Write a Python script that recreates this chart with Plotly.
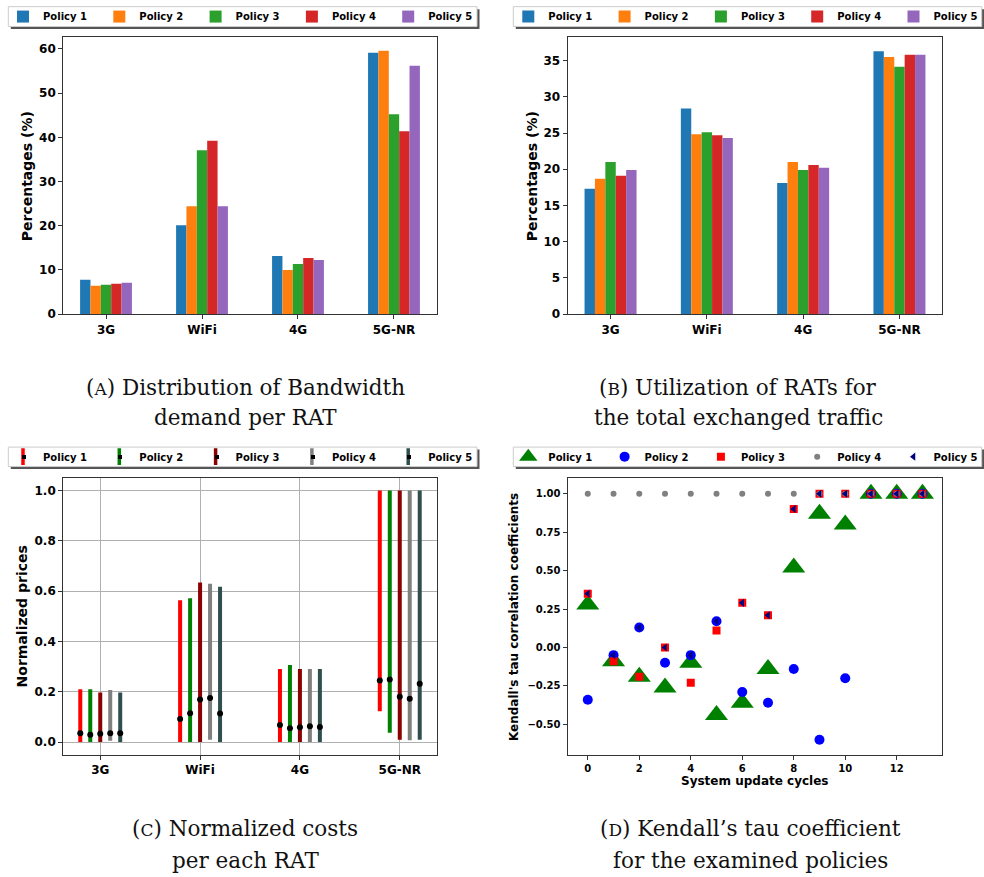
import plotly.graph_objects as go

# ---------------- data ----------------
rats = ["3G", "WiFi", "4G", "5G-NR"]
policies = ["Policy 1", "Policy 2", "Policy 3", "Policy 4", "Policy 5"]

# (A) bandwidth demand per RAT (%)
bw_p1 = [7.77, 20.1, 13.15, 59.1]
bw_p2 = [6.43, 24.4, 10.0, 59.6]
bw_p3 = [6.65, 37.1, 11.36, 45.2]
bw_p4 = [6.88, 39.2, 12.7, 41.4]
bw_p5 = [7.1, 24.4, 12.26, 56.2]

# (B) utilization of RATs for total exchanged traffic (%)
tr_p1 = [17.3, 28.4, 18.1, 36.3]
tr_p2 = [18.7, 24.85, 21.0, 35.5]
tr_p3 = [21.0, 25.1, 19.9, 34.15]
tr_p4 = [19.1, 24.7, 20.6, 35.8]
tr_p5 = [19.9, 24.3, 20.2, 35.8]

# (C) normalized prices: mean, min, max
c_mean_p1 = [0.035, 0.092, 0.068, 0.245]
c_low_p1 = [0.0, 0.0, 0.0, 0.122]
c_high_p1 = [0.21, 0.564, 0.29, 1.0]
c_mean_p2 = [0.029, 0.114, 0.055, 0.249]
c_low_p2 = [0.0, 0.0, 0.0, 0.037]
c_high_p2 = [0.21, 0.572, 0.306, 1.0]
c_mean_p3 = [0.033, 0.169, 0.059, 0.18]
c_low_p3 = [0.0, 0.0, 0.0, 0.009]
c_high_p3 = [0.197, 0.634, 0.29, 1.0]
c_mean_p4 = [0.035, 0.175, 0.063, 0.172]
c_low_p4 = [0.005, 0.009, 0.0, 0.007]
c_high_p4 = [0.207, 0.629, 0.29, 1.0]
c_mean_p5 = [0.035, 0.113, 0.06, 0.232]
c_low_p5 = [0.0, 0.0, 0.0, 0.009]
c_high_p5 = [0.197, 0.617, 0.29, 1.0]

# (D) Kendall's tau per system update cycle
cycles = [0, 1, 2, 3, 4, 5, 6, 7, 8, 9, 10, 11, 12, 13]
tau_p1 = [0.28, -0.09, -0.19, -0.26, -0.10, -0.44, -0.36, -0.14, 0.52, 0.87, 0.80, 1.0, 1.0, 1.0]
tau_p2 = [-0.34, -0.05, 0.13, -0.10, -0.05, 0.17, -0.29, -0.36, -0.14, -0.60, -0.20, 1.0, 1.0, 1.0]
tau_p3 = [0.35, -0.09, -0.19, 0.0, -0.23, 0.11, 0.29, 0.21, 0.90, 1.0, 1.0, 1.0, 1.0, 1.0]
tau_p4 = [1.0, 1.0, 1.0, 1.0, 1.0, 1.0, 1.0, 1.0, 1.0, 1.0, 1.0, 1.0, 1.0, 1.0]
tau_p5 = [0.35, -0.05, 0.13, 0.0, -0.05, 0.17, 0.29, 0.21, 0.90, 1.0, 1.0, 1.0, 1.0, 1.0]

# ---------------- styling ----------------
W, H = 984, 877
FONT = "DejaVu Sans"
SERIF = "DejaVu Serif"
bar_colors = ["#1f77b4", "#ff7f0e", "#2ca02c", "#d62728", "#9467bd"]
err_colors = ["#ff0000", "#008000", "#8b0000", "#808080", "#2f4f4f"]
SPINE = "#333333"
LAST_W = 40  # legend width of the final entry so the legend fits in the page
ENTRY_W = 51.3
LEG_STEP = 40 + ENTRY_W + 5


def px_x(p):
    return p / W


def px_y(p):
    return 1 - p / H


fig = go.Figure()

# (A) bars
for k, (name, vals, col) in enumerate(zip(policies, [bw_p1, bw_p2, bw_p3, bw_p4, bw_p5], bar_colors)):
    fig.add_trace(go.Bar(x=rats, y=vals, name=name, marker=dict(color=col, line=dict(width=0)),
                         xaxis="x", yaxis="y", legend="legend",
                         legendwidth=LAST_W if k == 4 else None))

# (B) bars
for k, (name, vals, col) in enumerate(zip(policies, [tr_p1, tr_p2, tr_p3, tr_p4, tr_p5], bar_colors)):
    fig.add_trace(go.Bar(x=rats, y=vals, name=name, marker=dict(color=col, line=dict(width=0)),
                         xaxis="x2", yaxis="y2", legend="legend2",
                         legendwidth=LAST_W if k == 4 else None))

# (C) error bars
c_means = [c_mean_p1, c_mean_p2, c_mean_p3, c_mean_p4, c_mean_p5]
c_lows = [c_low_p1, c_low_p2, c_low_p3, c_low_p4, c_low_p5]
c_highs = [c_high_p1, c_high_p2, c_high_p3, c_high_p4, c_high_p5]
for k, (name, m, lo, hi, col) in enumerate(zip(policies, c_means, c_lows, c_highs, err_colors)):
    xs = [i + (k - 2) * 0.1 for i in range(len(rats))]
    fig.add_trace(go.Scatter(
        x=xs, y=m, mode="markers", name=name, showlegend=False,
        marker=dict(color="black", size=6),
        error_y=dict(type="data", symmetric=False,
                     array=[h - v for h, v in zip(hi, m)],
                     arrayminus=[v - l for v, l in zip(m, lo)],
                     color=col, thickness=4, width=0),
        xaxis="x3", yaxis="y3"))
    # legend entry
    fig.add_trace(go.Scatter(
        x=[None], y=[None], mode="markers", name=name,
        marker=dict(symbol="line-ns", size=12, line=dict(color=col, width=3.5)),
        xaxis="x3", yaxis="y3", legend="legend3",
        legendwidth=LAST_W if k == 4 else None))

# (D) scatter
d_styles = [
    (tau_p1, "triangle-up", "#008000", 20),
    (tau_p2, "circle", "#0000ff", 10),
    (tau_p3, "square", "#ff0000", 8),
    (tau_p4, "circle", "#808080", 6),
    (tau_p5, "triangle-left", "#000080", 7),
]
for k, (name, (vals, sym, col, sz)) in enumerate(zip(policies, d_styles)):
    fig.add_trace(go.Scatter(x=cycles, y=vals, mode="markers", name=name,
                             marker=dict(symbol=sym, color=col, size=sz, line=dict(width=0)),
                             xaxis="x4", yaxis="y4", legend="legend4",
                             legendwidth=LAST_W if k == 4 else None))

# ---------------- axes ----------------
axis_common = dict(showline=True, linecolor=SPINE, linewidth=1.3, mirror=True,
                   ticks="outside", ticklen=4, tickwidth=1.2, tickcolor=SPINE,
                   zeroline=False, showgrid=False)
tick_bold12 = dict(family=FONT, size=12, color="black", weight="bold")
tick_bold10 = dict(family=FONT, size=10, color="black", weight="bold")

xa_dom = [px_x(63.3), px_x(436.7)]
xb_dom = [px_x(567.7), px_x(942.3)]
top_dom = [px_y(316.7), px_y(37.7)]
bot_dom = [px_y(760.7), px_y(481.7)]

fig.update_layout(
    xaxis=dict(axis_common, domain=xa_dom, anchor="y", type="category",
               range=[-0.445, 3.445], tickfont=tick_bold12),
    yaxis=dict(axis_common, domain=top_dom, anchor="x", range=[0, 62.6], dtick=10,
               tickfont=tick_bold12),
    xaxis2=dict(axis_common, domain=xb_dom, anchor="y2", type="category",
                range=[-0.445, 3.445], tickfont=tick_bold12),
    yaxis2=dict(axis_common, domain=top_dom, anchor="x2", range=[0, 38.2], dtick=5,
                tickfont=tick_bold12),
    xaxis3=dict(axis_common, domain=xa_dom, anchor="y3", range=[-0.37, 3.37],
                tickvals=[0, 1, 2, 3], ticktext=rats, tickfont=tick_bold12,
                showgrid=True, gridcolor="#b0b0b0", gridwidth=1),
    yaxis3=dict(axis_common, domain=bot_dom, anchor="x3", range=[-0.05, 1.05],
                dtick=0.2, tickformat=".1f", tickfont=tick_bold12,
                showgrid=True, gridcolor="#b0b0b0", gridwidth=1),
    xaxis4=dict(axis_common, domain=xb_dom, anchor="y4", range=[-0.78, 13.77],
                tickvals=[0, 2, 4, 6, 8, 10, 12], tickfont=tick_bold10),
    yaxis4=dict(axis_common, domain=bot_dom, anchor="x4", range=[-0.697, 1.103],
                tickvals=[-0.5, -0.25, 0, 0.25, 0.5, 0.75, 1.0], tickformat=".2f",
                tickfont=tick_bold10),
)

# ---------------- legends ----------------
leg_font = dict(family=FONT, size=10, color="black", weight="bold")


def legend_cfg(x_left, y_center):
    return dict(orientation="h", x=px_x(x_left), xanchor="left", y=px_y(y_center),
                yanchor="middle", bgcolor="rgba(0,0,0,0)", borderwidth=0,
                font=leg_font, entrywidth=ENTRY_W, entrywidthmode="pixels",
                itemwidth=30, traceorder="normal", itemclick=False, itemdoubleclick=False)


LEG_C_X, LEG_C_Y = 3.0, 460.3
fig.update_layout(
    legend=legend_cfg(3.0, 16.7),
    legend2=legend_cfg(508.3, 16.7),
    legend3=legend_cfg(LEG_C_X, LEG_C_Y),
    legend4=legend_cfg(508.3, LEG_C_Y),
)

# legend frames with shadow
shapes = []
for (x0, x1, y0, y1) in [(8.3, 477, 6.7, 26.7), (513.3, 981.7, 6.7, 26.7),
                         (8.3, 477, 450.7, 470.3), (513.3, 981.7, 450.7, 470.3)]:
    shapes.append(dict(type="rect", xref="paper", yref="paper",
                       x0=px_x(x0 + 2.5), x1=px_x(x1 + 2.5), y0=px_y(y1 + 2.5), y1=px_y(y0 + 2.5),
                       fillcolor="#555555", line=dict(width=0), layer="above"))
    shapes.append(dict(type="rect", xref="paper", yref="paper",
                       x0=px_x(x0), x1=px_x(x1), y0=px_y(y1), y1=px_y(y0),
                       fillcolor="white", line=dict(color="#cccccc", width=1), layer="above"))
fig.update_layout(shapes=shapes)

# ---------------- text annotations ----------------
ann = []
title_font14 = dict(family=FONT, size=14, color="black", weight="bold")
ann.append(dict(text="Percentages (%)", x=px_x(26.7), y=px_y(178), textangle=-90, font=title_font14))
ann.append(dict(text="Percentages (%)", x=px_x(531.7), y=px_y(178), textangle=-90, font=title_font14))
ann.append(dict(text="Normalized prices", x=px_x(21.7), y=px_y(621.7), textangle=-90, font=title_font14))
ann.append(dict(text="Kendall's tau correlation coefficients", x=px_x(514), y=px_y(622),
                textangle=-90, font=dict(family=FONT, size=12, color="black", weight="bold")))
ann.append(dict(text="System update cycles", x=px_x(754.5), y=px_y(787.7),
                font=dict(family=FONT, size=12, color="black", weight="bold")))

# black centre dot on each error-bar legend key of panel C
for k in range(len(policies)):
    ann.append(dict(text=" ", x=px_x(LEG_C_X + 21 + k * LEG_STEP), y=px_y(LEG_C_Y),
                    width=4, height=4, bgcolor="black", borderpad=0, borderwidth=0,
                    font=dict(size=1)))

cap_font = dict(family=SERIF, size=21.5, color="#111111")


def sc(letter):
    return "(<span style='font-size:17px'>" + letter + "</span>)"


captions = [
    (sc("A") + " Distribution of Bandwidth", 245, 391),
    ("demand per RAT", 245, 421),
    (sc("B") + " Utilization of RATs for", 738, 391),
    ("the total exchanged traffic", 738, 421),
    (sc("C") + " Normalized costs", 245, 835),
    ("per each RAT", 245, 867),
    (sc("D") + " Kendall’s tau coefficient", 750, 835),
    ("for the examined policies", 750, 867),
]
for t, cx, cy in captions:
    ann.append(dict(text=t, x=px_x(cx), y=px_y(cy), font=cap_font))

for a in ann:
    a.update(xref="paper", yref="paper", showarrow=False, xanchor="center", yanchor="middle")
fig.update_layout(annotations=ann)

fig.update_layout(
    width=W, height=H, autosize=False,
    margin=dict(l=0, r=0, t=0, b=0, pad=0),
    paper_bgcolor="white", plot_bgcolor="white",
    font=dict(family=FONT, color="black"),
    barmode="group", bargap=0.46, bargroupgap=0.0,
)

fig.write_html("out.html")
